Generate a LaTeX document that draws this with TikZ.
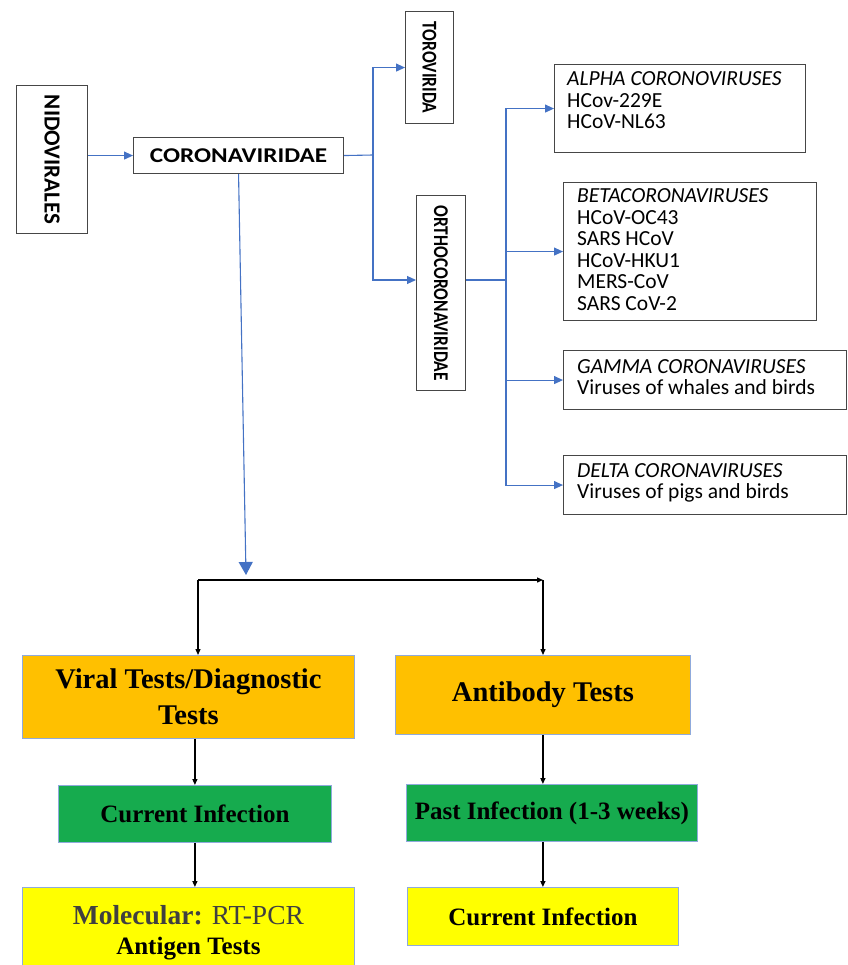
\documentclass[tikz,border=0pt]{standalone}
\usepackage{fontspec}
\setmainfont{Liberation Serif}
\newfontfamily\calibfont{Carlito}
\usepackage{graphicx}
\usepackage{tikz}
\usetikzlibrary{arrows.meta}

\begin{document}
\begin{tikzpicture}[x=1pt,y=1pt,yscale=-1,
  taxbox/.style={draw={rgb, 255:red, 70; green, 70; blue, 70 }, line width=1.1pt, inner sep=0pt, anchor=north west, font=\calibfont\bfseries},
  listtext/.style={inner sep=0pt, anchor=base west, font=\calibfont\fontsize{21.5}{21.5}\selectfont},
  bluelink/.style={color={rgb, 255:red, 68; green, 114; blue, 196 }, line width=1.1pt},
  bluetip/.style={bluelink, -{Triangle[length=9pt,width=8pt]}},
  blacklink/.style={color=black, line width=1.3pt, -{Triangle[length=6pt,width=5pt]}},
  testbox/.style={draw={rgb, 255:red, 143; green, 170; blue, 220 }, line width=0.8pt, inner sep=0pt, anchor=north west, align=center}
  ]
\useasboundingbox (0,0) rectangle (847,965);

%Shape: Rectangle [nido]
\node[taxbox, minimum width=71, minimum height=148] (nido) at (16,85) {\rotatebox{-90}{\fontsize{23}{23}\selectfont NIDOVIRALES}};
%Shape: Rectangle [corona]
\node[taxbox, minimum width=210, minimum height=36] (corona) at (133,137) {\scalebox{1.2}[1]{\fontsize{21}{21}\selectfont CORONAVIRIDAE}};
%Shape: Rectangle [toro]
\node[taxbox, minimum width=48, minimum height=112] (toro) at (405,11) {\rotatebox{-90}{\scalebox{0.83}[1]{\fontsize{21}{21}\selectfont TOROVIRIDA}}};
%Shape: Rectangle [ortho]
\node[taxbox, minimum width=49, minimum height=195] (ortho) at (416,195) {\rotatebox{-90}{\scalebox{0.83}[1]{\fontsize{21}{21}\selectfont ORTHOCORONAVIRIDAE}}};

%Shape: Rectangle [genera]
\node[taxbox, minimum width=251, minimum height=88] (alpha) at (554,64) {};
\node[taxbox, minimum width=253, minimum height=138] (beta) at (563,182) {};
\node[taxbox, minimum width=283, minimum height=59] (gamma) at (563,350) {};
\node[taxbox, minimum width=283, minimum height=59] (delta) at (563,455) {};

% Text Node
\node[listtext] (alphatext) at (567,86) {\begin{tabular}[t]{@{}l@{}}\textit{ALPHA CORONOVIRUSES}\\ HCov-229E\\ HCoV-NL63\end{tabular}};
% Text Node
\node[listtext] (betatext) at (577,203) {\begin{tabular}[t]{@{}l@{}}\textit{BETACORONAVIRUSES}\\ HCoV-OC43\\ SARS HCoV\\ HCoV-HKU1\\ MERS-CoV\\ SARS CoV-2\end{tabular}};
% Text Node
\node[listtext] (gammatext) at (577,373) {\begin{tabular}[t]{@{}l@{}}\textit{GAMMA CORONAVIRUSES}\\ Viruses of whales and birds\end{tabular}};
% Text Node
\node[listtext] (deltatext) at (577,477) {\begin{tabular}[t]{@{}l@{}}\textit{DELTA CORONAVIRUSES}\\ Viruses of pigs and birds\end{tabular}};

%Shape: Rectangle [tests]
\node[testbox, minimum width=332, minimum height=83, fill={rgb, 255:red, 255; green, 192; blue, 0 }, font=\fontsize{28.5}{36}\selectfont\bfseries] (viral) at (22,655) {Viral Tests/Diagnostic\\Tests};
\node[testbox, minimum width=295, minimum height=79, fill={rgb, 255:red, 255; green, 192; blue, 0 }, font=\fontsize{28.5}{36}\selectfont\bfseries] (anti) at (395,655) {Antibody Tests};
\node[testbox, minimum width=273, minimum height=57, fill={rgb, 255:red, 22; green, 171; blue, 78 }, font=\fontsize{25}{30}\selectfont\bfseries] (curr) at (58,785) {Current Infection};
\node[testbox, minimum width=291, minimum height=57, fill={rgb, 255:red, 22; green, 171; blue, 78 }, font=\fontsize{25}{30}\selectfont\bfseries] (past) at (406,784) {Past Infection (1-3 weeks)};
\node[testbox, minimum width=332, minimum height=90, fill={rgb, 255:red, 255; green, 255; blue, 0 }, font=\fontsize{25}{30}\selectfont\bfseries] (molec) at (22,887) {{\fontsize{27.5}{30}\selectfont\textcolor[RGB]{64,64,64}{Molecular: \mdseries RT-PCR}}\\Antigen Tests};
\node[testbox, minimum width=271, minimum height=58, fill={rgb, 255:red, 255; green, 255; blue, 0 }, font=\fontsize{25}{30}\selectfont\bfseries] (curr2) at (407,887) {Current Infection};

%Straight Lines
\coordinate (torofork) at (373,155);
\coordinate (orthofork) at (506,280);
\draw[bluetip] (nido.east |- corona.west) -- (corona.west);
\draw[bluelink] (corona.east) -- (torofork);
\draw[bluetip] (torofork) |- (toro.west);
\draw[bluetip] (torofork) |- (ortho.west |- orthofork);
\draw[bluelink] (ortho.east |- orthofork) -- (orthofork);
\draw[bluetip] (orthofork) |- (alpha.west);
\draw[bluetip] (orthofork) |- (beta.west);
\draw[bluetip] (orthofork) |- (gamma.west);
\draw[bluetip] (orthofork) |- (delta.west);

%Straight Lines
\coordinate (bigtip) at (246,575);
\coordinate (splitL) at (198,580);
\coordinate (splitR) at (543,580);
\draw[bluelink, -{Triangle[length=13pt,width=14pt]}] (corona.south) -- (bigtip);
\draw[blacklink] (splitL) -- (splitR);
\draw[blacklink] (splitL) -- (splitL |- viral.north);
\draw[blacklink] (splitR) -- (splitR |- anti.north);
\draw[blacklink] (curr.north |- viral.south) -- (curr.north);
\draw[blacklink] (curr.south) -- (curr.south |- molec.north);
\draw[blacklink] (anti.south) -- (anti.south |- past.north);
\draw[blacklink] (curr2.north |- past.south) -- (curr2.north);

\end{tikzpicture}
\end{document}
